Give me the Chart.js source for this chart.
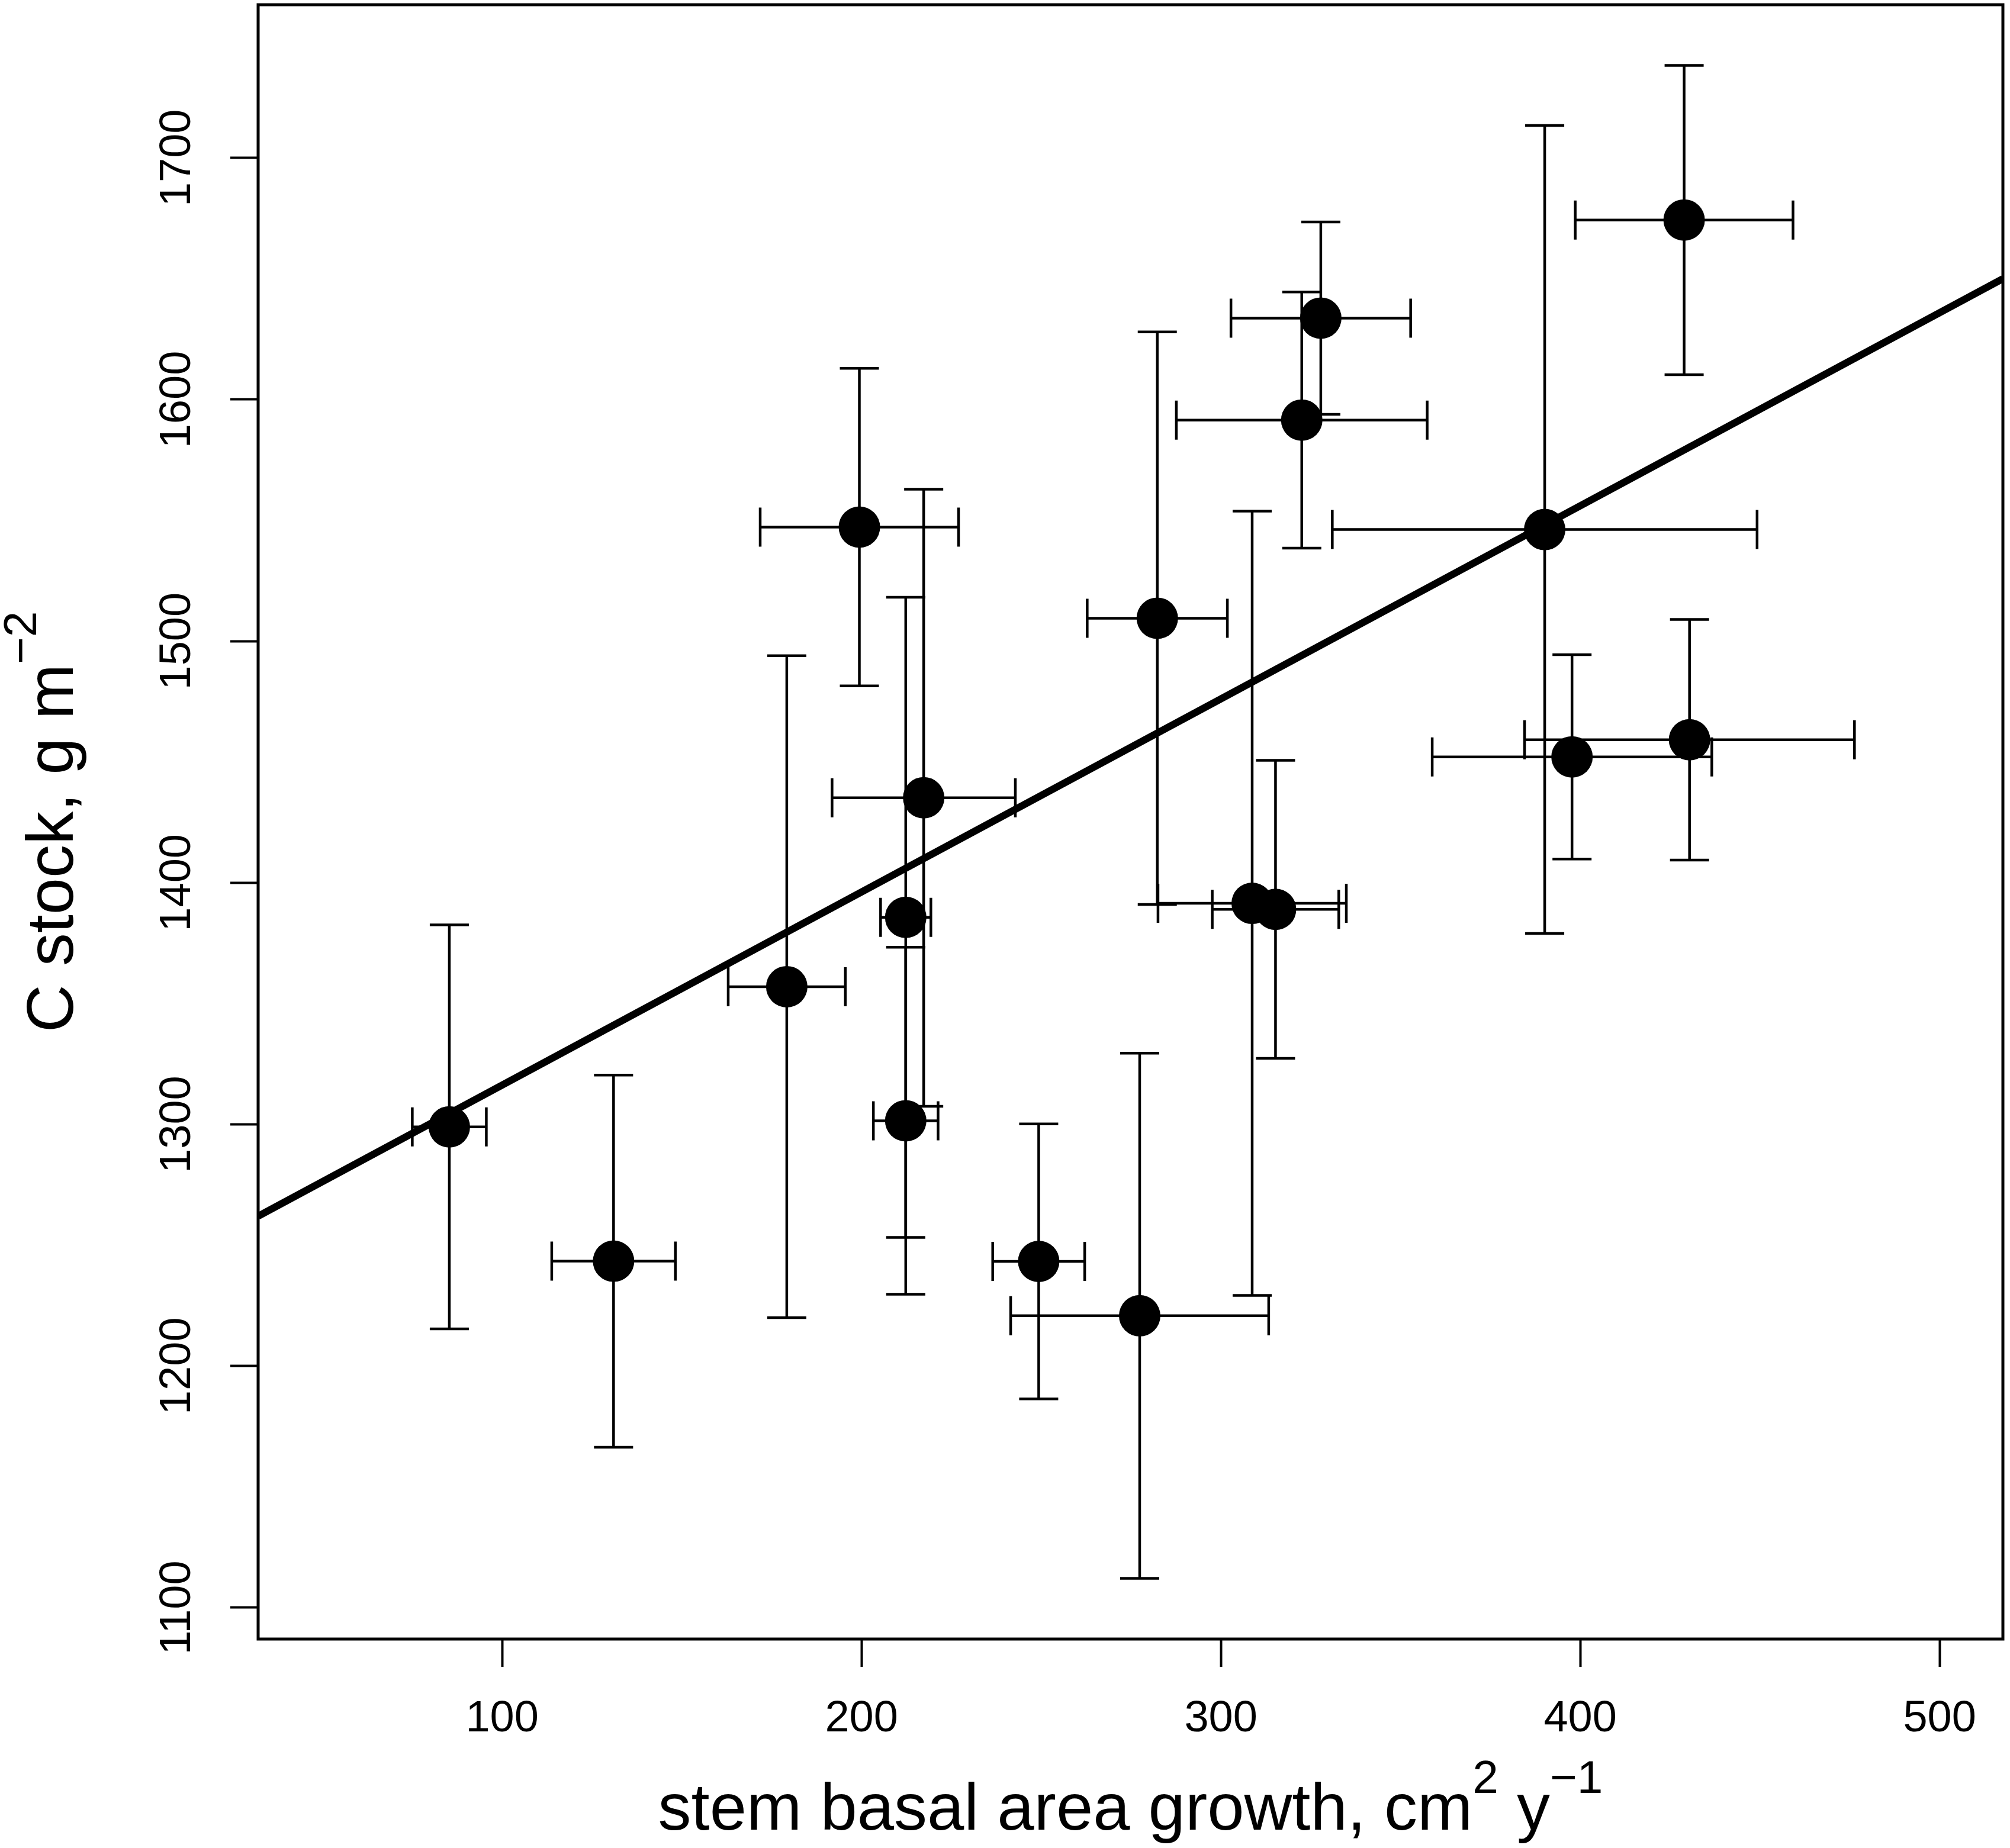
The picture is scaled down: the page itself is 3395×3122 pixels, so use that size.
<!DOCTYPE html>
<html>
<head>
<meta charset="utf-8">
<title>C stock vs stem basal area growth</title>
<script src="https://cdn.jsdelivr.net/npm/chart.js@4.4.1/dist/chart.umd.min.js"></script>
<style>
  html, body { margin: 0; padding: 0; background: #fff; }
  canvas { display: block; }
</style>
</head>
<body>
<canvas id="chart" width="3395" height="3122" style="width:3395px;height:3122px"></canvas>
<script>
// values (plot means with +/- error)
const growth    = [85.3, 131.0, 179.2, 199.4, 217.3, 212.3, 212.3, 249.3, 277.4, 282.3, 308.7, 315.2, 322.5, 327.8, 390.1, 397.7, 430.4, 428.9];
const growthErr = [10.3, 17.2, 16.3, 27.6, 25.5, 7.0, 9.0, 12.8, 35.9, 19.5, 26.2, 17.6, 34.9, 25.0, 59.1, 38.9, 45.9, 30.3];
const cStock    = [1299, 1243.4, 1357, 1547.2, 1435.2, 1385.7, 1301.5, 1243.3, 1220.8, 1509.5, 1391.5, 1389, 1591.5, 1633.7, 1546.2, 1452.1, 1459.2, 1674.3];
const cStockErr = [83.6, 77, 137, 65.7, 127.7, 132.5, 71.8, 56.9, 108.7, 118.5, 162.3, 61.7, 53, 39.8, 167.2, 42.3, 49.8, 64];

// regression line end points (at the plot edges)
const fitX = [32.1, 517.6];
const fitY = [1262, 1650];

const xTicks = [100, 200, 300, 400, 500];
const yTicks = [1100, 1200, 1300, 1400, 1500, 1600, 1700];

const FONT = "'Liberation Sans', Arial, Helvetica, sans-serif";

// ===== error bars with caps, drawn through the chart scales =====
const errorBars = {
    id: 'errorBars',
    beforeDatasetsDraw(chart) {
        const { ctx, scales: { x, y } } = chart;
        const cap = 33;
        ctx.save();
        ctx.strokeStyle = '#000';
        ctx.lineWidth = 4.5;
        growth.forEach((gx, i) => {
            const px = x.getPixelForValue(gx);
            const py = y.getPixelForValue(cStock[i]);
            const xl = x.getPixelForValue(gx - growthErr[i]);
            const xr = x.getPixelForValue(gx + growthErr[i]);
            const yb = y.getPixelForValue(cStock[i] - cStockErr[i]);
            const yt = y.getPixelForValue(cStock[i] + cStockErr[i]);
            ctx.beginPath();
            ctx.moveTo(xl, py); ctx.lineTo(xr, py);
            ctx.moveTo(xl, py - cap); ctx.lineTo(xl, py + cap);
            ctx.moveTo(xr, py - cap); ctx.lineTo(xr, py + cap);
            ctx.moveTo(px, yb); ctx.lineTo(px, yt);
            ctx.moveTo(px - cap, yb); ctx.lineTo(px + cap, yb);
            ctx.moveTo(px - cap, yt); ctx.lineTo(px + cap, yt);
            ctx.stroke();
        });
        ctx.restore();
    },
};

// text with superscripts (R plotmath look)
function drawRich(ctx, parts, cx, baseY, size) {
    const supSize = size * 0.7;
    const raise = size * 0.55;
    let total = 0;
    parts.forEach((p) => {
        ctx.font = `${p.sup ? supSize : size}px ${FONT}`;
        p.w = ctx.measureText(p.t).width;
        total += p.w;
    });
    let x = cx - total / 2;
    ctx.textAlign = 'left';
    ctx.textBaseline = 'alphabetic';
    parts.forEach((p) => {
        ctx.font = `${p.sup ? supSize : size}px ${FONT}`;
        ctx.fillText(p.t, x, p.sup ? baseY - raise : baseY);
        x += p.w;
    });
}

// ===== box round the plot + axis titles =====
const frame = {
    id: 'frame',
    beforeDraw(chart) {
        const { ctx, width, height } = chart;
        ctx.save();
        ctx.fillStyle = '#fff';
        ctx.fillRect(0, 0, width, height);
        ctx.restore();
    },
    afterDraw(chart) {
        const { ctx, chartArea: a } = chart;
        ctx.save();
        ctx.strokeStyle = '#000';
        ctx.lineWidth = 5;
        ctx.strokeRect(a.left, a.top, a.right - a.left, a.bottom - a.top);

        ctx.fillStyle = '#000';
        drawRich(ctx, [
            { t: 'stem basal area growth, cm' },
            { t: '2', sup: true },
            { t: ' y' },
            { t: '\u22121', sup: true },
        ], (a.left + a.right) / 2, 3091, 112);

        ctx.translate(123, (a.top + a.bottom) / 2);
        ctx.rotate(-Math.PI / 2);
        drawRich(ctx, [
            { t: 'C stock, g m' },
            { t: '\u22122', sup: true },
        ], 0, 0, 112);
        ctx.restore();
    },
};

new Chart(document.getElementById('chart'), {
    type: 'scatter',
    data: {
        datasets: [
            {
                type: 'line',
                label: 'fit',
                data: fitX.map((v, i) => ({ x: v, y: fitY[i] })),
                borderColor: '#000',
                borderWidth: 12,
                pointRadius: 0,
                fill: false,
                tension: 0,
                order: 2,
            },
            {
                label: 'plots',
                data: growth.map((v, i) => ({ x: v, y: cStock[i] })),
                backgroundColor: '#000',
                borderWidth: 0,
                pointRadius: 35,
                pointHoverRadius: 35,
                order: 1,
            },
        ],
    },
    options: {
        responsive: false,
        animation: false,
        devicePixelRatio: 1,
        layout: { autoPadding: false, padding: { top: 8, right: 12, left: 0, bottom: 0 } },
        plugins: {
            legend: { display: false },
            tooltip: { enabled: false },
        },
        scales: {
            x: {
                type: 'linear',
                min: 32.1,
                max: 517.6,
                afterBuildTicks: (s) => { s.ticks = xTicks.map((v) => ({ value: v })); },
                afterFit: (s) => {
                    s.height = 353;
                    s.paddingLeft = 0; s.paddingRight = 0;
                },
                border: { display: false },
                grid: {
                    display: true,
                    drawOnChartArea: false,
                    drawTicks: true,
                    tickLength: 47,
                    tickWidth: 4,
                    tickColor: '#000',
                },
                ticks: {
                    color: '#000',
                    font: { family: FONT, size: 74 },
                    padding: 44,
                    maxRotation: 0,
                    autoSkip: false,
                    callback: (v) => String(v),
                },
            },
            y: {
                type: 'linear',
                min: 1087,
                max: 1763.4,
                afterBuildTicks: (s) => { s.ticks = yTicks.map((v) => ({ value: v })); },
                afterFit: (s) => {
                    s.width = 436;
                    s.paddingTop = 0; s.paddingBottom = 0;
                },
                border: { display: false },
                grid: {
                    display: true,
                    drawOnChartArea: false,
                    drawTicks: true,
                    tickLength: 47,
                    tickWidth: 4,
                    tickColor: '#000',
                },
                ticks: {
                    color: '#000',
                    font: { family: FONT, size: 74 },
                    padding: 6,
                    minRotation: 90,
                    maxRotation: 90,
                    crossAlign: 'center',
                    autoSkip: false,
                    callback: (v) => String(v),
                },
            },
        },
    },
    plugins: [errorBars, frame],
});
</script>
</body>
</html>
